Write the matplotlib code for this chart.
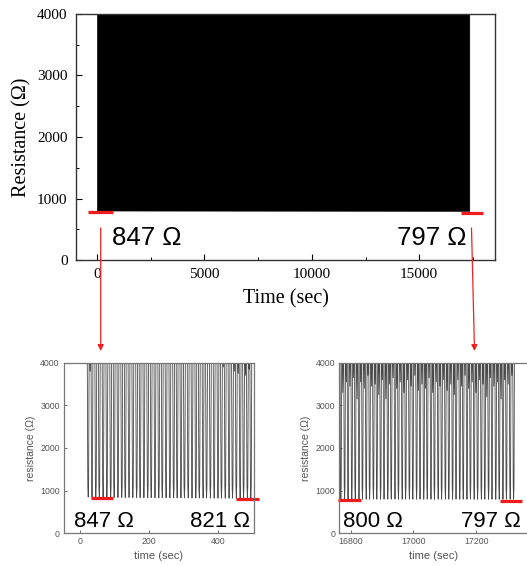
import numpy as np
import matplotlib.pyplot as plt
from matplotlib.patches import FancyArrowPatch

# =========================================================
# DATA
# =========================================================

# main panel: the ~1500 cycles merge into a solid envelope
main_t = [0, 17330]
main_low = [805, 800]
main_high = [4000, 4000]

# first 500 s: trough times (s), trough values (ohm), top dips between cycles
early_t = [24, 35, 46, 56, 67, 78, 89, 99, 110, 121, 131, 142, 153, 164, 174,
           185, 196, 206, 217, 228, 238, 249, 260, 271, 281, 292, 302, 313, 324,
           335, 345, 356, 366, 377, 388, 399, 409, 420, 431, 441, 452, 463, 473,
           484, 494]
early_r = [848, 846, 845, 846, 844, 842, 843, 841, 840, 841, 838, 839, 837, 836,
           838, 835, 834, 836, 833, 832, 834, 831, 830, 832, 829, 830, 828, 829,
           827, 828, 826, 827, 825, 826, 824, 825, 823, 824, 822, 823, 822, 821,
           822, 821, 821]
early_dip = [3800, 4600, 4600, 4600, 4600, 4600, 4600, 4600, 4600, 4600, 4600,
             4600, 4600, 4600, 4600, 4600, 4600, 4600, 4600, 4600, 4600, 4600,
             4600, 4600, 4600, 4600, 4600, 4600, 4600, 4600, 4600, 4600, 4600,
             4600, 4600, 4600, 3900, 4600, 4600, 3800, 3750, 4600, 3700, 3850]

# last part of the run
late_t = [16768, 16780, 16791, 16803, 16814, 16826, 16837, 16849, 16860, 16872,
          16883, 16895, 16906, 16918, 16929, 16941, 16952, 16964, 16975, 16987,
          16998, 17010, 17021, 17033, 17044, 17056, 17067, 17079, 17090, 17102,
          17113, 17125, 17136, 17148, 17159, 17171, 17182, 17194, 17205, 17217,
          17228, 17240, 17251, 17263, 17274, 17286, 17297, 17309, 17320]
late_r = [800, 802, 799, 801, 803, 800, 798, 801, 799, 802, 800, 798, 801, 799,
          800, 802, 798, 799, 801, 800, 797, 799, 801, 798, 800, 799, 797, 800,
          798, 801, 799, 797, 800, 798, 799, 797, 800, 798, 797, 799, 798, 797,
          799, 797, 798, 797, 798, 797, 797]
late_dip = [3300, 3550, 3450, 3650, 3150, 3550, 3400, 3700, 3450, 3500, 3250,
            3600, 3150, 3500, 3650, 3400, 3550, 3300, 3600, 3450, 3700, 3350,
            3500, 3400, 3650, 3300, 3550, 3450, 3600, 3350, 3500, 3250, 3600,
            3450, 3700, 3400, 3550, 3300, 3600, 3500, 3200, 3650, 3450, 3550,
            3150, 3600, 3500, 3700]

# labels
main_labels = ["847 \u03a9", "797 \u03a9"]
early_labels = ["847 \u03a9", "821 \u03a9"]
late_labels = ["800 \u03a9", "797 \u03a9"]


# =========================================================
# HELPERS
# =========================================================

def cycle_path(troughs, values, dips):
    # narrow U for every cycle, optional dip in the saturated part between
    xs, ys = [], []
    for i, (t, v) in enumerate(zip(troughs, values)):
        xs += [t - 3.0, t - 1.2, t, t + 1.2, t + 3.0]
        ys += [4700, 1100, v, 1100, 4700]
        if i < len(dips):
            mid = (t + troughs[i + 1]) / 2
            xs += [mid - 2.0, mid, mid + 2.0]
            ys += [4700, dips[i], 4700]
    return xs, ys


def style_small(ax):
    ax.set_ylim(0, 4000)
    ax.set_yticks([0, 1000, 2000, 3000, 4000])
    ax.tick_params(direction='in', length=2.5, width=0.6, labelsize=6.3,
                   colors='#555555', pad=3)
    for sp in ax.spines.values():
        sp.set_color('#777777')
        sp.set_linewidth(0.9)
    ax.set_ylabel("resistance (\u03a9)", fontsize=7.5, color='#555555',
                  family='Liberation Sans', labelpad=3)
    ax.set_xlabel("time (sec)", fontsize=8, color='#555555',
                  family='Liberation Sans', labelpad=3)
    for lab in ax.get_xticklabels() + ax.get_yticklabels():
        lab.set_family('Liberation Sans')


# =========================================================
# FIGURE
# =========================================================

fig = plt.figure(figsize=(5.27, 5.66), dpi=100)

# ---------------- main panel ----------------
ax = fig.add_axes([0.1442, 0.5406, 0.7951, 0.4347])
ax.fill_between(main_t, main_low, main_high, color='black', lw=0.5)
ax.set_xlim(-980, 18530)
ax.set_ylim(0, 4000)
ax.set_xticks([0, 5000, 10000, 15000])
ax.set_xticks([2500, 7500, 12500, 17500], minor=True)
ax.set_yticks([0, 1000, 2000, 3000, 4000])
ax.set_yticks([500, 1500, 2500, 3500], minor=True)
ax.tick_params(which='both', direction='in', top=False, right=False,
               labelsize=11, pad=6)
ax.tick_params(which='major', length=4, width=0.8)
ax.tick_params(which='minor', length=2.5, width=0.7)
for lab in ax.get_xticklabels() + ax.get_yticklabels():
    lab.set_family('Liberation Serif')
for sp in ax.spines.values():
    sp.set_linewidth(1.0)
    sp.set_color('#333333')
ax.set_xlabel("Time (sec)", fontsize=14.5, family='Liberation Serif', labelpad=6)
ax.set_ylabel("Resistance (\u03a9)", fontsize=14.5, family='Liberation Serif',
              labelpad=4)

ax.plot([-400, 720], [780, 780], color='#ee1c1c', lw=2.3, solid_capstyle='butt')
ax.plot([16930, 17980], [770, 770], color='#ee1c1c', lw=2.3,
        solid_capstyle='butt')
ax.text(712, 358, main_labels[0], fontsize=18.5, family='Liberation Sans',
        ha='left', va='center')
ax.text(17220, 358, main_labels[1], fontsize=18.5, family='Liberation Sans',
        ha='right', va='center')

# ---------------- first 500 s ----------------
ax1 = fig.add_axes([0.1214, 0.0578, 0.3605, 0.3014])
x1, y1 = cycle_path(early_t, early_r, early_dip)
ax1.plot(x1, y1, color='#4a4a4a', lw=0.6)
ax1.set_xlim(-46, 503)
ax1.set_xticks([0, 200, 400])
style_small(ax1)
ax1.plot([31, 96], [828, 828], color='#ee1c1c', lw=2.3, solid_capstyle='butt')
ax1.plot([451, 517], [805, 805], color='#ee1c1c', lw=2.3,
         solid_capstyle='butt', clip_on=False)
ax1.text(-17, 272, early_labels[0], fontsize=16, family='Liberation Sans',
         ha='left', va='center')
ax1.text(491, 272, early_labels[1], fontsize=16, family='Liberation Sans',
         ha='right', va='center')

# ---------------- last part ----------------
ax2 = fig.add_axes([0.6438, 0.0578, 0.3581, 0.3014])
x2, y2 = cycle_path(late_t, late_r, late_dip)
ax2.plot(x2, y2, color='#4a4a4a', lw=0.6)
ax2.set_xlim(16763, 17366)
ax2.set_xticks([16800, 17000, 17200])
style_small(ax2)
ax2.plot([16760, 16832], [774, 774], color='#ee1c1c', lw=2.3,
         solid_capstyle='butt', clip_on=False)
ax2.plot([17277, 17347], [760, 760], color='#ee1c1c', lw=2.3,
         solid_capstyle='butt')
ax2.text(16775, 272, late_labels[0], fontsize=16, family='Liberation Sans',
         ha='left', va='center')
ax2.text(17343, 272, late_labels[1], fontsize=16, family='Liberation Sans',
         ha='right', va='center')

# ---------------- red connector arrows ----------------
W, H = 527, 566
for (xa, ya), (xb, yb) in [((100.7, 228), (100.7, 351)),
                           ((471.5, 228), (474.5, 351))]:
    arr = FancyArrowPatch((xa / W, 1 - ya / H), (xb / W, 1 - yb / H),
                          transform=fig.transFigure, arrowstyle='-|>',
                          mutation_scale=9, color='#ee2222', lw=0.9,
                          shrinkA=0, shrinkB=0)
    fig.patches.append(arr)

plt.savefig("out.png", dpi=100)
